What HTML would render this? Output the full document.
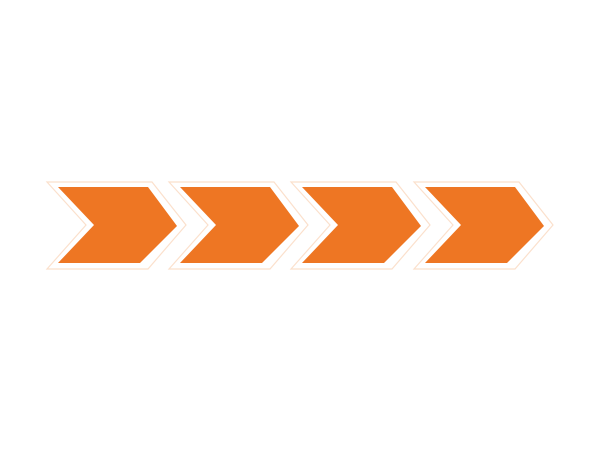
<!DOCTYPE html>
<html><head><style>html,body{margin:0;padding:0;background:#fff;}svg{display:block}</style></head>
<body>
<svg width="600" height="450" viewBox="0 0 600 450" xmlns="http://www.w3.org/2000/svg">
<defs>
<g id="c">
<polygon points="47,182 152,182 186,225 148,269 47,269 86,225" fill="#fff" stroke="#fbe0cc" stroke-width="1.2"/>
<polygon points="58,187 148,187 177,226 140,263 58,263 94,225" fill="#ee7623"/>
</g>
</defs>
<use href="#c" x="0"/>
<use href="#c" x="122"/>
<use href="#c" x="244"/>
<use href="#c" x="367"/>
</svg>
</body></html>
